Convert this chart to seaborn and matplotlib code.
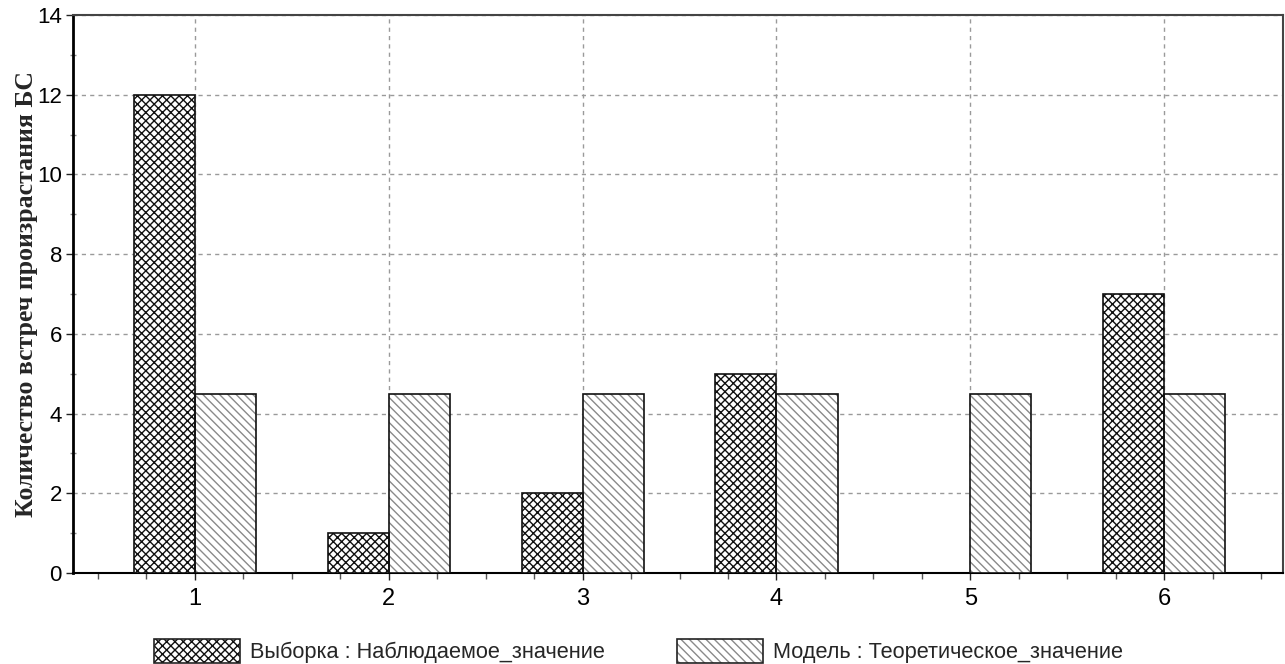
import matplotlib
matplotlib.use("Agg")
import matplotlib.pyplot as plt
import seaborn as sns
import pandas as pd
from matplotlib.patches import Patch, Rectangle
from matplotlib.ticker import MultipleLocator
from matplotlib.legend_handler import HandlerTuple

categories = ["1", "2", "3", "4", "5", "6"]
observed = [12, 1, 2, 5, 0, 7]
theoretical = [4.5, 4.5, 4.5, 4.5, 4.5, 4.5]
series_names = ["Выборка : Наблюдаемое_значение", "Модель : Теоретическое_значение"]
ylabel = "Количество встреч произрастания БС"

sns.set_theme(style="white")
plt.rcParams["font.family"] = ["Liberation Sans", "DejaVu Sans"]
plt.rcParams["hatch.linewidth"] = 1.0

df = pd.DataFrame({
    "cat": categories * 2,
    "val": observed + theoretical,
    "series": [series_names[0]] * len(categories) + [series_names[1]] * len(categories),
})

fig = plt.figure(figsize=(12.85, 6.64), dpi=100)
ax = fig.add_axes([73 / 1285, 1 - 573 / 664, (1283 - 73) / 1285, (573 - 15) / 664])

sns.barplot(data=df, x="cat", y="val", hue="series", hue_order=series_names,
            order=categories, width=0.63, gap=0, ax=ax, legend=False,
            palette=["white", "white"], errorbar=None, zorder=3)

hatch_cfg = [("xxxx", "#111111"), ("\\\\\\\\", "#8a8a8a")]
for i, cont in enumerate(ax.containers):
    h, hc = hatch_cfg[i]
    for p in cont:
        p.set_hatch(h)
        p.set_edgecolor(hc)
        p.set_linewidth(0)
        p.set_facecolor("white")
        if p.get_height() > 0:
            ax.add_patch(Rectangle(p.get_xy(), p.get_width(), p.get_height(),
                                   fill=False, edgecolor="#111111", linewidth=1.2, zorder=4))

ax.set_xlim(-0.629, 5.613)
ax.set_ylim(0, 14)
ax.set_yticks(range(0, 15, 2))
ax.xaxis.set_minor_locator(MultipleLocator(0.25))
ax.yaxis.set_minor_locator(MultipleLocator(1))
ax.grid(True, which="major", linestyle=(0, (3, 3)), color="#9a9a9a", linewidth=1.0, zorder=0)
ax.set_axisbelow(True)
ax.tick_params(axis="both", which="major", direction="out", length=5, width=1, colors="#222222",
               labelcolor="black", bottom=True, left=True)
ax.tick_params(axis="y", which="major", labelsize=16, pad=3)
ax.tick_params(axis="x", which="major", labelsize=17, pad=6)
ax.tick_params(axis="x", which="minor", direction="out", length=4, width=1, colors="#555555", bottom=True)
ax.tick_params(axis="y", which="minor", direction="inout", length=4, width=1, colors="#888888", left=True)
ax.set_xlabel("")
ax.set_ylabel(ylabel, family=["Liberation Serif", "DejaVu Serif"], fontweight="bold",
              fontsize=18.5)
ax.yaxis.set_label_coords(-0.029, 0.5)

for side, col, lw in [("left", "black", 2.0), ("bottom", "black", 1.5),
                      ("top", "#444444", 1.5), ("right", "#444444", 1.5)]:
    ax.spines[side].set_visible(True)
    ax.spines[side].set_color(col)
    ax.spines[side].set_linewidth(lw)

handles = []
for h, hc in hatch_cfg:
    hp = Patch(facecolor="white", edgecolor=hc, hatch=h, linewidth=0)
    op = Patch(facecolor="none", edgecolor="#222222", linewidth=1.2)
    handles.append((hp, op))
fig.legend(handles, series_names, loc="center", bbox_to_anchor=(638.5 / 1285, 1 - 651 / 664),
           ncol=2, frameon=False, fontsize=15.7, handlelength=3.95, handleheight=1.35,
           columnspacing=3.3, handletextpad=0.47, borderpad=0,
           handler_map={tuple: HandlerTuple(ndivide=1, pad=0)})

fig.savefig("out.png", dpi=100)
